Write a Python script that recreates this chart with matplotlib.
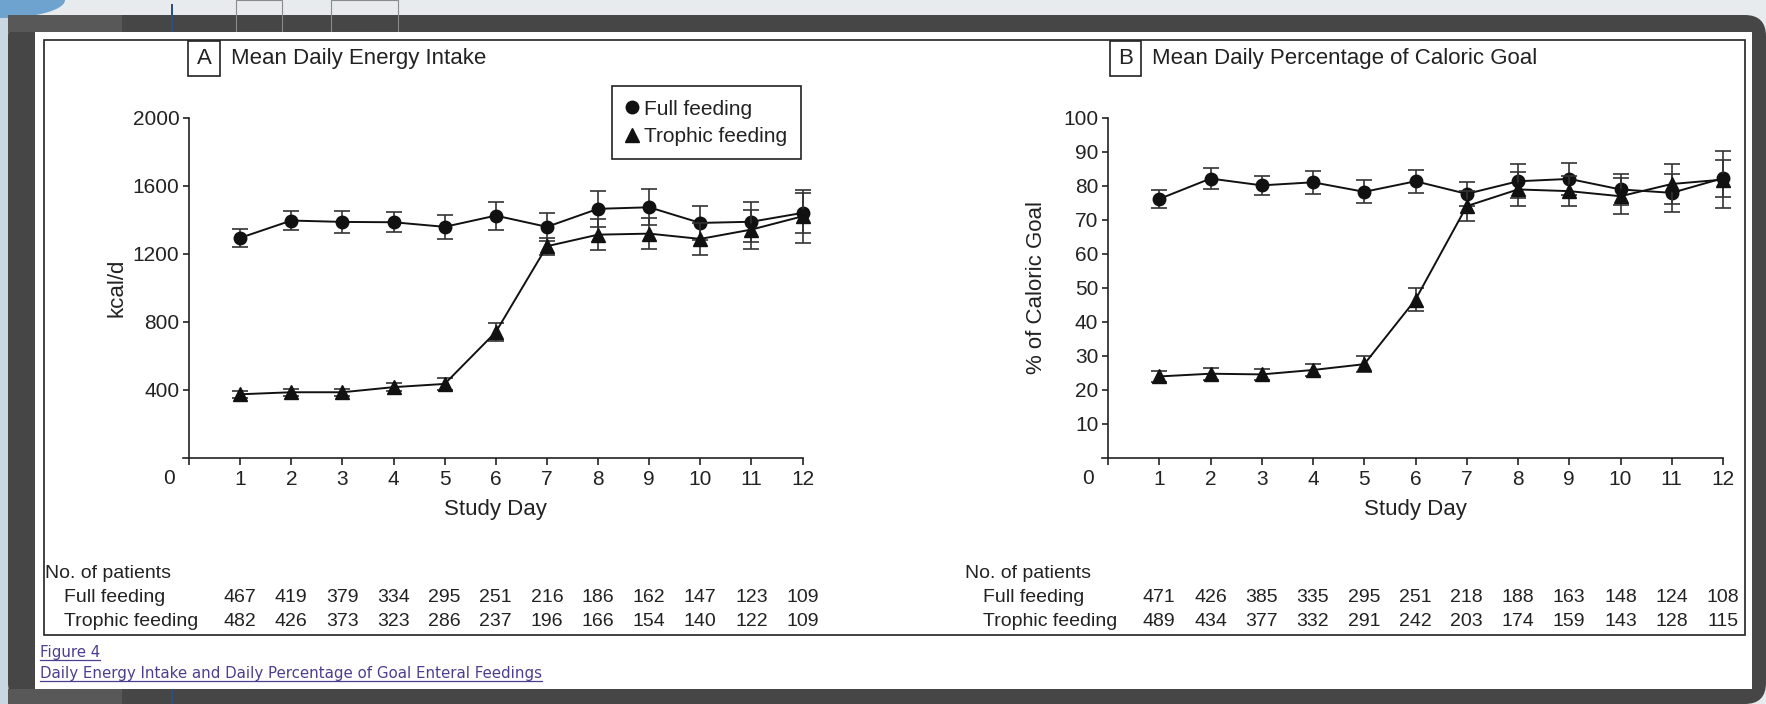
import matplotlib
matplotlib.use('Agg')
import matplotlib.pyplot as plt
import matplotlib.transforms as mtransforms
from matplotlib.patches import Rectangle, FancyBboxPatch, Ellipse
from matplotlib.lines import Line2D

plt.rcParams['font.family'] = ['Liberation Sans', 'DejaVu Sans']

W, H = 1766, 704
INK = '#222222'

# data
days = [1, 2, 3, 4, 5, 6, 7, 8, 9, 10, 11, 12]

energy_full = [1293, 1395, 1387, 1385, 1358, 1424, 1358, 1464, 1473, 1381, 1388, 1440]
energy_full_se = [52, 55, 64, 60, 72, 83, 83, 105, 105, 100, 118, 118]
energy_trophic = [373, 385, 385, 415, 434, 739, 1244, 1312, 1318, 1287, 1342, 1420]
energy_trophic_se = [22, 22, 22, 25, 35, 55, 50, 90, 90, 92, 115, 155]

pct_full = [76.1, 82.1, 80.1, 81.0, 78.2, 81.3, 77.6, 81.3, 82.0, 78.9, 77.9, 82.2]
pct_full_se = [2.7, 3.0, 2.9, 3.4, 3.4, 3.4, 3.5, 5.0, 4.7, 4.5, 5.5, 5.5]
pct_trophic = [23.9, 24.7, 24.5, 25.8, 27.5, 46.5, 74.0, 78.9, 78.4, 76.9, 80.5, 81.8]
pct_trophic_se = [1.5, 1.7, 1.7, 1.8, 2.3, 3.4, 4.3, 5.0, 4.5, 5.3, 6.0, 8.5]

n_energy_full = [467, 419, 379, 334, 295, 251, 216, 186, 162, 147, 123, 109]
n_energy_trophic = [482, 426, 373, 323, 286, 237, 196, 166, 154, 140, 122, 109]
n_pct_full = [471, 426, 385, 335, 295, 251, 218, 188, 163, 148, 124, 108]
n_pct_trophic = [489, 434, 377, 332, 291, 242, 203, 174, 159, 143, 128, 115]

energy_ticks = [400, 800, 1200, 1600, 2000]
pct_ticks = [10, 20, 30, 40, 50, 60, 70, 80, 90, 100]


def fx(x):
    return x / W


def fy(y):
    # pixel y from the top -> figure fraction
    return 1 - y / H


def rect(x0, y0, x1, y1, **kw):
    return Rectangle((fx(x0), fy(y1)), (x1 - x0) / W, (y1 - y0) / H,
                     transform=fig.transFigure, **kw)


fig = plt.figure(figsize=(W / 100, H / 100), dpi=100, facecolor='#e7ebee')

# screenshot frame
fig.add_artist(rect(0, 0, 8, 704, facecolor='#c9d7e2', edgecolor='none', zorder=-20))
fig.add_artist(Ellipse((0, 1), 130 / W, 36 / H, transform=fig.transFigure,
                       facecolor='#6fa3cf', edgecolor='none', zorder=-20))
fig.add_artist(FancyBboxPatch((fx(8), 0), (W - 8) / W, fy(15), boxstyle='round,pad=0,rounding_size=0.012',
                              transform=fig.transFigure, facecolor='#464646', edgecolor='none',
                              zorder=-19, mutation_aspect=W / H))
fig.add_artist(rect(8, 15, 122, 32, facecolor='#585858', edgecolor='none', zorder=-18))
fig.add_artist(rect(8, 689, 122, 704, facecolor='#585858', edgecolor='none', zorder=-18))
fig.add_artist(rect(171, 4, 173, 32, facecolor='#2c4f80', edgecolor='none', zorder=-17))
fig.add_artist(rect(171, 689, 173, 704, facecolor='#2c4f80', edgecolor='none', zorder=-17))
fig.add_artist(rect(236, 0, 282, 32, facecolor='none', edgecolor='#8a8a8a', lw=0.8, zorder=-17))
fig.add_artist(rect(331, 0, 398, 32, facecolor='none', edgecolor='#8a8a8a', lw=0.8, zorder=-17))
fig.add_artist(rect(35, 32, 1752, 689, facecolor='white', edgecolor='none', zorder=-16))
fig.add_artist(rect(44, 40, 1745, 635, facecolor='none', edgecolor=INK, lw=1.2, zorder=-15))


def panel(left, right, ymax, yticks, full, full_se, trophic, trophic_se):
    unit = (right - left) / 12
    ax = fig.add_axes([fx(left - 0.12 * unit), fy(457.7), 12.12 * unit / W, 340 / H])
    ax.patch.set_visible(False)
    ax.set_xlim(-0.12, 12)
    ax.set_ylim(0, ymax)
    for s in ['top', 'right']:
        ax.spines[s].set_visible(False)
    ax.spines['left'].set_position(('data', 0))
    for s in ['left', 'bottom']:
        ax.spines[s].set_color(INK)
        ax.spines[s].set_linewidth(1.2)
    ax.set_xticks([0] + days)
    ax.set_xticklabels([''] + [str(d) for d in days])
    ax.set_yticks(yticks)
    ax.tick_params(axis='x', direction='out', length=5, width=1.2, colors=INK, labelsize=15, pad=4)
    ax.tick_params(axis='y', direction='out', length=4, width=1.2, colors=INK, labelsize=15, pad=3)
    ax.annotate('0', xy=(0, 0), xycoords='data', xytext=(-20, -21), textcoords='offset pixels',
                ha='center', va='center', fontsize=15, color=INK, annotation_clip=False)
    ax.errorbar(days, full, yerr=full_se, fmt='-o', color='#111111', ecolor='#333333',
                lw=1.4, elinewidth=1.2, capsize=6, capthick=1.2, markersize=9, clip_on=False, zorder=3)
    ax.errorbar(days, trophic, yerr=trophic_se, fmt='-^', color='#111111', ecolor='#333333',
                lw=1.4, elinewidth=1.2, capsize=6, capthick=1.2, markersize=10, clip_on=False, zorder=4)
    ax.set_xlabel('Study Day', fontsize=16, color=INK)
    ax.xaxis.label.set_va('center')
    ax.xaxis.set_label_coords((6 + 0.12) / 12.12, (457.7 - 510) / 340)
    return ax


axA = panel(189, 802.6, 2000, energy_ticks, energy_full, energy_full_se, energy_trophic, energy_trophic_se)
axA.set_ylabel('kcal/d', fontsize=16, color=INK)
axA.yaxis.label.set_va('center')
axA.yaxis.set_label_coords(-0.107, 0.5)

axB = panel(1108, 1723, 100, pct_ticks, pct_full, pct_full_se, pct_trophic, pct_trophic_se)
axB.set_ylabel('% of Caloric Goal', fontsize=16, color=INK)
axB.yaxis.label.set_va('center')
axB.yaxis.set_label_coords(-0.105, 0.5)

handles = [Line2D([], [], marker='o', ls='none', color='#111111', markersize=9),
           Line2D([], [], marker='^', ls='none', color='#111111', markersize=10)]
leg = axA.legend(handles, ['Full feeding', 'Trophic feeding'], loc='upper left',
                 bbox_to_anchor=(fx(612), fy(86)), bbox_transform=fig.transFigure,
                 fontsize=15, frameon=True, fancybox=False, edgecolor=INK, framealpha=1,
                 handlelength=0.6, handletextpad=0.3, borderpad=0.65, labelspacing=0.4, borderaxespad=0)
leg.get_frame().set_linewidth(1.2)
for t in leg.get_texts():
    t.set_color(INK)

# panel titles
for (bx0, bx1, letter, title) in [(188, 220, 'A', 'Mean Daily Energy Intake'),
                                  (1110, 1141, 'B', 'Mean Daily Percentage of Caloric Goal')]:
    fig.add_artist(rect(bx0, 41, bx1, 76, facecolor='white', edgecolor=INK, lw=1.2))
    fig.text(fx((bx0 + bx1) / 2), fy(58.5), letter, ha='center', va='center', fontsize=16, color=INK)
    fig.text(fx(bx1 + 11), fy(58.5), title, ha='left', va='center', fontsize=16, color=INK)

# patient counts under each panel
for ax, x_head, x_row, n_full, n_trophic in [(axA, 45, 64, n_energy_full, n_energy_trophic),
                                               (axB, 965, 983, n_pct_full, n_pct_trophic)]:
    fig.text(fx(x_head), fy(573), 'No. of patients', ha='left', va='center', fontsize=14, color=INK)
    fig.text(fx(x_row), fy(598), 'Full feeding', ha='left', va='center', fontsize=14, color=INK)
    fig.text(fx(x_row), fy(622), 'Trophic feeding', ha='left', va='center', fontsize=14, color=INK)
    trans = mtransforms.blended_transform_factory(ax.transData, fig.transFigure)
    for d, a, b in zip(days, n_full, n_trophic):
        fig.text(d, fy(598), str(a), transform=trans, ha='center', va='center', fontsize=14, color=INK)
        fig.text(d, fy(622), str(b), transform=trans, ha='center', va='center', fontsize=14, color=INK)

# caption links
link = '#4b3f8f'
caps = [fig.text(fx(40), fy(657), 'Figure 4', ha='left', va='baseline', fontsize=10.8,
                 color=link, family='DejaVu Sans'),
        fig.text(fx(40), fy(678), 'Daily Energy Intake and Daily Percentage of Goal Enteral Feedings',
                 ha='left', va='baseline', fontsize=10.8, color=link, family='DejaVu Sans')]
fig.canvas.draw()
renderer = fig.canvas.get_renderer()
for t in caps:
    bb = t.get_window_extent(renderer)
    y = t.get_position()[1] - 2.5 / H
    fig.add_artist(Line2D([bb.x0 / W, bb.x1 / W], [y, y], transform=fig.transFigure,
                          color=link, lw=0.9))

fig.savefig('out.png', dpi=100, facecolor=fig.get_facecolor())
